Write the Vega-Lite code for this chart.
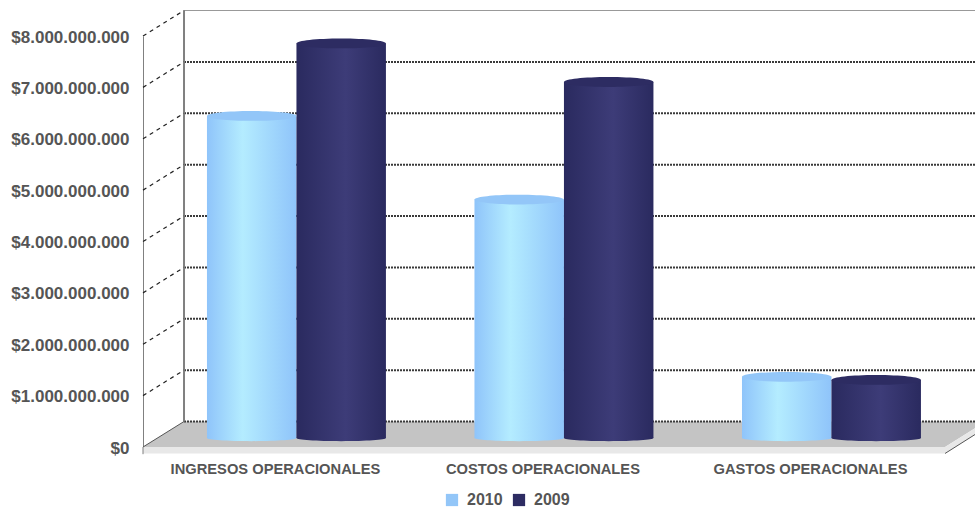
{
  "$schema": "https://vega.github.io/schema/vega-lite/v6.json",
  "width": 832,
  "height": 411,
  "autosize": {"type": "none"},
  "padding": {"left": 143, "top": 36, "right": 0, "bottom": 62},
  "background": "white",
  "config": {"view": {"stroke": null}, "font": "Liberation Sans"},
  "datasets": {
    "barras": [
      {"categoria": "INGRESOS OPERACIONALES", "serie": "2010", "valor": 6270000000},
      {"categoria": "INGRESOS OPERACIONALES", "serie": "2009", "valor": 7680000000},
      {"categoria": "COSTOS OPERACIONALES", "serie": "2010", "valor": 4640000000},
      {"categoria": "COSTOS OPERACIONALES", "serie": "2009", "valor": 6930000000},
      {"categoria": "GASTOS OPERACIONALES", "serie": "2010", "valor": 1190000000},
      {"categoria": "GASTOS OPERACIONALES", "serie": "2009", "valor": 1130000000}
    ],
    "niveles": [
      {"nivel": 0}, {"nivel": 1000000000}, {"nivel": 2000000000}, {"nivel": 3000000000},
      {"nivel": 4000000000}, {"nivel": 5000000000}, {"nivel": 6000000000}, {"nivel": 7000000000}
    ],
    "suelo": [
      {"pos": 0, "alto": 0, "bajo": 0},
      {"pos": 0.1534, "alto": 496000000, "bajo": 0},
      {"pos": 3, "alto": 496000000, "bajo": 0},
      {"pos": 3.112, "alto": 496000000, "bajo": 363000000}
    ],
    "borde": [
      {"pos": 0, "alto": 0, "bajo": -126000000},
      {"pos": 3, "alto": 0, "bajo": -126000000},
      {"pos": 3.112, "alto": 363000000, "bajo": 243000000}
    ]
  },
  "resolve": {"scale": {"x": "independent"}, "axis": {"x": "independent"}},
  "layer": [
    {
      "layer": [
        {
          "data": {"name": "suelo"},
          "mark": {"type": "area", "color": "#c4c4c4", "line": false},
          "encoding": {
            "x": {"field": "pos", "type": "quantitative", "axis": null,
                  "scale": {"domain": [0, 3.112], "nice": false, "zero": false}},
            "y": {"field": "alto", "type": "quantitative", "stack": null,
                  "scale": {"domain": [0, 8000000000], "nice": false},
                  "axis": {
                    "title": null, "grid": false, "ticks": false, "values": [0, 1000000000, 2000000000, 3000000000, 4000000000, 5000000000, 6000000000, 7000000000, 8000000000],
                    "domainColor": "#808080", "domainWidth": 1,
                    "labelFontSize": 17, "labelFontWeight": "bold", "labelColor": "#555555", "labelPadding": 14, "labelOffset": 1,
                    "labelExpr": "'$' + replace(format(datum.value, ',d'), /,/g, '.')"
                  }},
            "y2": {"field": "bajo"}
          }
        },
        {
          "data": {"name": "borde"},
          "mark": {"type": "area", "color": "#e8e8e8"},
          "encoding": {
            "x": {"field": "pos", "type": "quantitative"},
            "y": {"field": "alto", "type": "quantitative", "stack": null},
            "y2": {"field": "bajo"}
          }
        },
        {
          "data": {"name": "niveles"},
          "mark": {"type": "rule", "color": "#3a3a3a", "strokeWidth": 2, "strokeDash": [2, 1], "yOffset": -25.5},
          "encoding": {
            "x": {"datum": 0.1534, "type": "quantitative"},
            "x2": {"datum": 3.112},
            "y": {"field": "nivel", "type": "quantitative"}
          }
        },
        {
          "data": {"values": [{"nivel": 8000000000}]},
          "mark": {"type": "rule", "color": "#999999", "strokeWidth": 1, "yOffset": -25.5},
          "encoding": {
            "x": {"datum": 0.1534, "type": "quantitative"},
            "x2": {"datum": 3.112},
            "y": {"field": "nivel", "type": "quantitative"}
          }
        },
        {
          "data": {"values": [{"nivel": 0, "tope": 8000000000}]},
          "mark": {"type": "rule", "color": "#808080", "strokeWidth": 2, "yOffset": -25.5, "y2Offset": -25.5},
          "encoding": {
            "x": {"datum": 0.1534, "type": "quantitative"},
            "y": {"field": "nivel", "type": "quantitative"},
            "y2": {"field": "tope"}
          }
        },
        {
          "data": {"values": [
            {"nivel": 1000000000}, {"nivel": 2000000000}, {"nivel": 3000000000}, {"nivel": 4000000000},
            {"nivel": 5000000000}, {"nivel": 6000000000}, {"nivel": 7000000000}, {"nivel": 8000000000}
          ]},
          "mark": {"type": "rule", "color": "#222222", "strokeWidth": 1.2, "strokeDash": [4, 4], "y2Offset": -25.5},
          "encoding": {
            "x": {"datum": 0, "type": "quantitative"},
            "x2": {"datum": 0.1534},
            "y": {"field": "nivel", "type": "quantitative"},
            "y2": {"field": "nivel"}
          }
        },
        {
          "data": {"values": [{"nivel": 0}]},
          "mark": {"type": "rule", "color": "#555555", "strokeWidth": 1, "y2Offset": -25.5},
          "encoding": {
            "x": {"datum": 0, "type": "quantitative"},
            "x2": {"datum": 0.1534},
            "y": {"field": "nivel", "type": "quantitative"},
            "y2": {"field": "nivel"}
          }
        },
        {
          "data": {"values": [{"a": 3, "b": 3.112, "v0": -126000000, "v1": 243000000}]},
          "mark": {"type": "rule", "color": "#555555", "strokeWidth": 1},
          "encoding": {
            "x": {"field": "a", "type": "quantitative"},
            "x2": {"field": "b"},
            "y": {"field": "v0", "type": "quantitative"},
            "y2": {"field": "v1"}
          }
        },
        {
          "data": {"values": [{"v0": 0, "v1": -140000000}]},
          "mark": {"type": "rule", "color": "#808080", "strokeWidth": 1},
          "encoding": {
            "x": {"datum": 0, "type": "quantitative"},
            "y": {"field": "v0", "type": "quantitative"},
            "y2": {"field": "v1"}
          }
        }
      ]
    },
    {
      "data": {"name": "barras"},
      "encoding": {
        "x": {
          "field": "categoria", "type": "nominal", "sort": null,
          "scale": {
            "domain": ["INGRESOS OPERACIONALES", "COSTOS OPERACIONALES", "GASTOS OPERACIONALES"],
            "paddingInner": 0.331, "paddingOuter": 0.2206, "align": 0.542
          },
          "axis": {
            "orient": "bottom",
            "title": null, "domain": false, "ticks": false, "labelAngle": 0, "labelLimit": 300,
            "labelFontSize": 14.7, "labelFontWeight": "bold", "labelColor": "#555555",
            "labelPadding": 14, "labelOffset": -21
          }
        },
        "xOffset": {"field": "serie", "type": "nominal", "scale": {"domain": ["2010", "2009"]}}
      },
      "layer": [
        {
          "transform": [{"filter": "datum.serie == '2010'"}],
          "mark": {
            "type": "point", "filled": true, "opacity": 1, "size": 8010, "yOffset": -9,
            "shape": "M-1,0 A1,0.07 0 1 1 1,0 A1,0.07 0 1 1 -1,0 Z",
            "color": {"gradient": "linear", "x1": 0, "x2": 1, "y1": 0, "y2": 0,
                      "stops": [{"offset": 0, "color": "#8fc4fa"}, {"offset": 0.4, "color": "#b4ecff"}, {"offset": 1, "color": "#8fc4fa"}]}
          },
          "encoding": {"y": {"datum": 0, "type": "quantitative"}}
        },
        {
          "transform": [{"filter": "datum.serie == '2009'"}],
          "mark": {
            "type": "point", "filled": true, "opacity": 1, "size": 8010, "yOffset": -9,
            "shape": "M-1,0 A1,0.07 0 1 1 1,0 A1,0.07 0 1 1 -1,0 Z",
            "color": {"gradient": "linear", "x1": 0, "x2": 1, "y1": 0, "y2": 0,
                      "stops": [{"offset": 0, "color": "#2a2a5f"}, {"offset": 0.55, "color": "#3d3c78"}, {"offset": 1, "color": "#2a2a5f"}]}
          },
          "encoding": {"y": {"datum": 0, "type": "quantitative"}}
        },
        {
          "transform": [{"filter": "datum.serie == '2010'"}],
          "mark": {
            "type": "bar", "yOffset": -9, "y2Offset": -9,
            "color": {"gradient": "linear", "x1": 0, "x2": 1, "y1": 0, "y2": 0,
                      "stops": [{"offset": 0, "color": "#8fc4fa"}, {"offset": 0.4, "color": "#b4ecff"}, {"offset": 1, "color": "#8fc4fa"}]}
          },
          "encoding": {
            "y": {"field": "valor", "type": "quantitative", "stack": null},
            "y2": {"datum": 0}
          }
        },
        {
          "transform": [{"filter": "datum.serie == '2009'"}],
          "mark": {
            "type": "bar", "yOffset": -9, "y2Offset": -9,
            "color": {"gradient": "linear", "x1": 0, "x2": 1, "y1": 0, "y2": 0,
                      "stops": [{"offset": 0, "color": "#2a2a5f"}, {"offset": 0.55, "color": "#3d3c78"}, {"offset": 1, "color": "#2a2a5f"}]}
          },
          "encoding": {
            "y": {"field": "valor", "type": "quantitative", "stack": null},
            "y2": {"datum": 0}
          }
        },
        {
          "mark": {
            "type": "point", "filled": true, "opacity": 1, "size": 8010, "yOffset": -9,
            "shape": "M-1,0 A1,0.11 0 1 1 1,0 A1,0.11 0 1 1 -1,0 Z"
          },
          "encoding": {
            "y": {"field": "valor", "type": "quantitative"},
            "color": {
              "field": "serie", "type": "nominal",
              "scale": {"domain": ["2010", "2009"], "range": ["#93c6f8", "#2d2c62"]},
              "legend": {
                "title": null, "orient": "none", "direction": "horizontal",
                "legendX": 301, "legendY": 456,
                "symbolType": "square", "symbolSize": 150, "symbolStrokeWidth": 0,
                "labelFontSize": 16, "labelFontWeight": "bold", "labelColor": "#555555",
                "columnPadding": 8, "labelOffset": 7
              }
            }
          }
        }
      ]
    }
  ]
}
